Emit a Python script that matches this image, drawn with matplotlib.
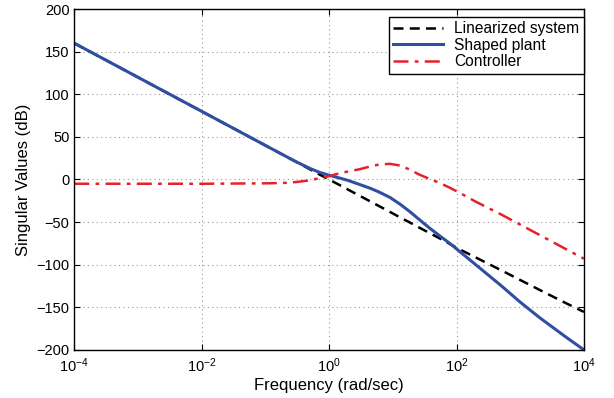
import matplotlib
matplotlib.use("Agg")
import matplotlib.pyplot as plt
import numpy as np

plt.rcParams['font.family'] = ['Liberation Sans', 'DejaVu Sans']
plt.rcParams['mathtext.fontset'] = 'custom'
plt.rcParams['mathtext.rm'] = 'Liberation Sans'

# frequencies (rad/sec) and singular values (dB)
freq = [1e-4, 1e-3, 1e-2, 1e-1, 0.2, 0.3, 0.5, 0.7, 1, 1.5, 2, 3, 4.5, 6, 9,
        13, 18, 26, 37, 54, 80, 112, 200, 500, 1e3, 2e3, 5e3, 1e4]
linearized = [160, 120, 80, 40, 28, 21, 12, 6, 0, -7, -12, -19, -26, -31, -38,
              -44.5, -50, -56.5, -62.5, -69, -76, -82, -91.5, -106.5, -118,
              -129.5, -144.5, -155.5]
shaped = [160, 120, 80, 40, 28, 21, 13, 8.5, 5, 1.5, -1.2, -5.8, -10.5, -14.5,
          -21, -29, -37, -47, -56.5, -66, -75.5, -84.5, -100, -124.5, -144,
          -162, -184, -200]
controller = [-5, -5, -5, -4.5, -4, -3, -1, 1.5, 4, 7.5, 9.5, 12, 15.5, 17.5,
              18.4, 16.4, 12, 5.8, 1, -3.9, -10, -15.6, -26, -41, -53, -65,
              -81, -93]

xticks = [1e-4, 1e-2, 1e0, 1e2, 1e4]
yticks = list(range(-200, 201, 50))

fig = plt.figure(figsize=(6.14, 3.98), dpi=100)
ax = fig.add_axes([0.121, 0.121, 0.830, 0.856])

ax.semilogx(freq, linearized, color='black', ls=(0, (4, 2.5)), lw=1.8,
            label='Linearized system')
ax.semilogx(freq, shaped, color='#2f4fa3', lw=2.2, label='Shaped plant')
ax.semilogx(freq, controller, color='#e8202a', ls=(0, (6, 2.5, 1.5, 2.5)),
            lw=1.8, label='Controller')

ax.set_xlim(1e-4, 1e4)
ax.set_ylim(-200, 200)
ax.set_xticks(xticks)
ax.xaxis.set_minor_locator(matplotlib.ticker.NullLocator())
ax.set_yticks(yticks)
ax.tick_params(direction='in', top=True, right=True, labelsize=10.5, length=4)
ax.tick_params(axis='x', pad=5)
ax.grid(True, color='#999999', ls=(0, (1, 3)), lw=0.8)
for s in ax.spines.values():
    s.set_linewidth(1.0)

ax.set_xlabel('Frequency (rad/sec)', fontsize=12, labelpad=2)
ax.set_ylabel('Singular Values (dB)', fontsize=12, labelpad=4)

leg = ax.legend(loc='upper right', bbox_to_anchor=(1.0, 0.978), fontsize=11.2,
                handlelength=3.2, borderaxespad=0, fancybox=False,
                framealpha=1, edgecolor='black', borderpad=0.3,
                labelspacing=0.1, handletextpad=0.7)
leg.get_frame().set_linewidth(1.0)

fig.savefig('out.png', dpi=100)
